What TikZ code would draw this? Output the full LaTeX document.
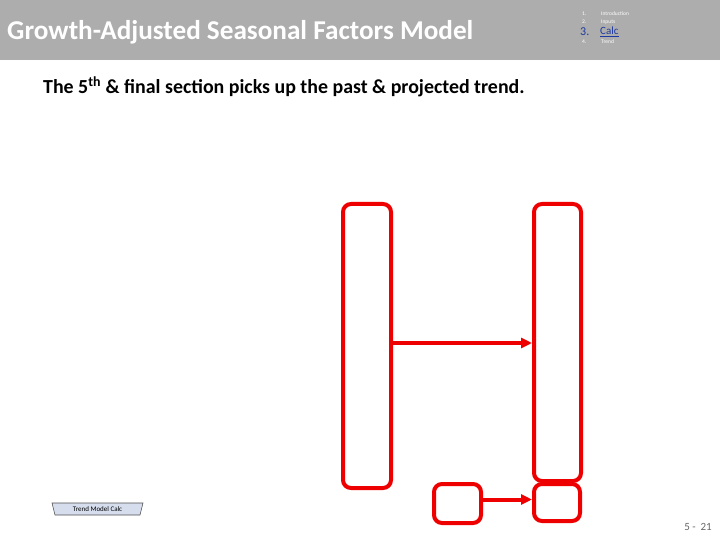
\documentclass[tikz,border=0pt]{standalone}
\usepackage{fontspec}
\setmainfont{Carlito}
\usepackage{xcolor}
\usetikzlibrary{calc, positioning, arrows.meta, shapes.geometric}
\definecolor{bandgray}{HTML}{ADADAD}
\definecolor{flowred}{HTML}{EE0000}
\definecolor{menublue}{HTML}{1F3A9E}
\definecolor{tabfill}{HTML}{D6DEEE}
\tikzset{>={Triangle[length=11pt,width=10pt]},
  flowbox/.style={draw=flowred, line width=4pt, rounded corners=8pt, inner sep=0pt},
  flowarrow/.style={flowred, line width=4pt, ->},
  menuitem/.style={white, font=\fontsize{5.5}{6}\selectfont, anchor=west, inner sep=0pt}
}

\begin{document}
\begin{tikzpicture}[x=1pt, y=-1pt]
\useasboundingbox (0,0) rectangle (720,540);
% header band
\fill[bandgray] (0,0) rectangle (720,60);
\node[anchor=base west, white, font=\bfseries\fontsize{27.2}{32}\selectfont, inner sep=0pt] (title) at (7,40) {Growth-Adjusted Seasonal Factors Model};
% section menu
\node[menuitem] (num1) at (582,14) {1.};
\node[menuitem] (num2) at (582,22) {2.};
\node[menuitem, menublue, font=\fontsize{12}{13}\selectfont, anchor=west] (num3) at (580,32) {3.};
\node[menuitem] (num4) at (582,42) {4.};
\node[menuitem] (item1) at (601,14) {Introduction};
\node[menuitem] (item2) at (601,22) {Inputs};
\node[menuitem, menublue, font=\fontsize{11}{12}\selectfont] (item3) at (600,32) {\underline{Calc}};
\node[menuitem] (item4) at (601,42) {Trend};
% subtitle
\node[anchor=base west, font=\bfseries\fontsize{19.9}{24}\selectfont, inner sep=0pt] (subtitle) at (43,94)
  {The 5\textsuperscript{th} \& final section picks up the past \& projected trend.};
% flow boxes
\node[flowbox, minimum width=48pt, minimum height=284pt] (pastcol) at (367,346) {};
\node[flowbox, minimum width=47pt, minimum height=277pt] (trendcol) at (557.5,342.5) {};
\node[flowbox, minimum width=47pt, minimum height=39pt] (calcin) at (457.5,503.5) {};
\node[flowbox, minimum width=46pt, minimum height=37pt] (calcout) at (557,502.5) {};
\draw[flowarrow] ($(pastcol.east)+(0,-3)$) -- (trendcol.west |- {$(pastcol.east)+(0,-3)$});
\draw[flowarrow] ($(calcin.east)+(0,-4)$) -- (calcout.west |- {$(calcin.east)+(0,-4)$});
% sheet tab
\draw[fill=tabfill, draw=black!70, line width=0.6pt] (52,503) -- (143,503) -- (140,515) -- (55,515) -- cycle;
\node[font=\fontsize{7}{8}\selectfont, inner sep=0pt] (tab) at (97.5,509.5) {Trend Model Calc};
% page number
\node[anchor=base east, black!60, font=\fontsize{11}{13}\selectfont, inner sep=0pt] (pagenum) at (712,530) {5 -\ \ 21};
\end{tikzpicture}
\end{document}
